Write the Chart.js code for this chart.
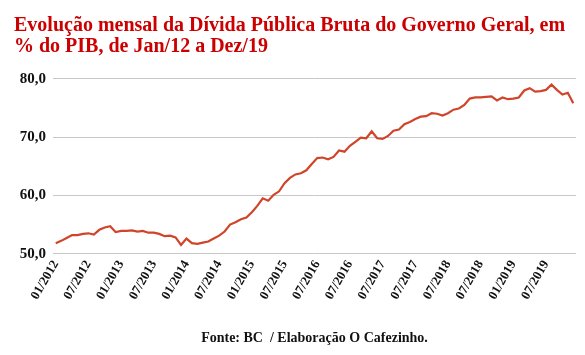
<!DOCTYPE html>
<html>
<head>
<meta charset="utf-8">
<script src="https://cdn.jsdelivr.net/npm/chart.js@4.4.1/dist/chart.umd.min.js"></script>
<style>
  html, body { margin: 0; padding: 0; background: #ffffff; }
  #wrap { width: 585px; height: 355px; position: relative; }
</style>
</head>
<body>
<div id="wrap"><canvas id="c" width="585" height="355"></canvas></div>
<script>
// Monthly gross general government debt, % of GDP, Jan/2012 .. Dec/2019
const debt2012 = [51.8, 52.2, 52.7, 53.2, 53.2, 53.4, 53.5, 53.3, 54.1, 54.5, 54.7, 53.7];
const debt2013 = [53.9, 53.9, 54.0, 53.8, 53.9, 53.6, 53.6, 53.4, 53.0, 53.1, 52.8, 51.5];
const debt2014 = [52.6, 51.8, 51.7, 51.9, 52.1, 52.6, 53.1, 53.8, 55.0, 55.4, 55.9, 56.2];
const debt2015 = [57.1, 58.2, 59.5, 59.1, 60.1, 60.7, 62.1, 63.0, 63.6, 63.8, 64.3, 65.4];
const debt2016 = [66.4, 66.5, 66.2, 66.6, 67.7, 67.5, 68.5, 69.2, 69.9, 69.8, 71.0, 69.8];
const debt2017 = [69.7, 70.2, 71.1, 71.3, 72.2, 72.6, 73.1, 73.5, 73.6, 74.1, 74.0, 73.7];
const debt2018 = [74.1, 74.7, 74.9, 75.5, 76.6, 76.8, 76.8, 76.9, 77.0, 76.3, 76.8, 76.5];
const debt2019 = [76.6, 76.8, 78.0, 78.4, 77.8, 77.9, 78.1, 79.0, 78.1, 77.3, 77.6, 75.8];

// Tick labels as printed on the original chart (one every 6 months)
const tickLabels = ["01/2012","07/2012","01/2013","07/2013","01/2014","07/2014","01/2015","07/2015",
                    "07/2016","07/2016","07/2017","07/2017","07/2018","07/2018","01/2019","07/2019"];

const years = [2012, 2013, 2014, 2015, 2016, 2017, 2018, 2019];
const months = ["01","02","03","04","05","06","07","08","09","10","11","12"];

const values = [].concat(debt2012, debt2013, debt2014, debt2015, debt2016, debt2017, debt2018, debt2019);
const categories = [];
years.forEach(y => months.forEach(m => categories.push(m + "/" + y)));

const titleLines = ["Evolução mensal da Dívida Pública Bruta do Governo Geral, em", "% do PIB, de Jan/12 a Dez/19"];
const sourceText = "Fonte: BC  / Elaboração O Cafezinho.";

const serif = "'Liberation Serif', 'Times New Roman', serif";

new Chart(document.getElementById('c'), {
  type: 'line',
  data: {
    labels: categories,
    datasets: [{
      data: values,
      borderColor: '#d0442a',
      borderWidth: 2.2,
      pointRadius: 0,
      tension: 0,
      fill: false
    }]
  },
  options: {
    responsive: false,
    animation: false,
    layout: { padding: { left: 14, right: 9, top: 4, bottom: 4 } },
    plugins: {
      legend: { display: false },
      tooltip: { enabled: false },
      title: {
        display: true,
        text: titleLines,
        align: 'start',
        color: '#cc0000',
        font: { family: serif, size: 20, weight: 'bold', lineHeight: 1.07 },
        padding: { top: 11, bottom: 21 }
      },
      subtitle: {
        display: true,
        position: 'bottom',
        fullSize: false,
        text: sourceText,
        align: 'center',
        color: '#111111',
        font: { family: serif, size: 14, weight: 'bold' },
        padding: { top: 6, bottom: 4.5 }
      }
    },
    scales: {
      x: {
        offset: true,
        grid: { display: false, drawTicks: false },
        border: { display: false },
        afterFit: function (axis) {
          axis.height = 70;
          axis.paddingLeft = 0;
          axis.paddingRight = 0;
        },
        ticks: {
          autoSkip: false,
          maxRotation: 60,
          minRotation: 60,
          padding: 4,
          color: '#111111',
          font: { family: serif, size: 13, weight: 'bold' },
          callback: function (val, idx) {
            return idx % 6 === 0 ? tickLabels[idx / 6] : '';
          }
        }
      },
      y: {
        min: 50,
        max: 80,
        grid: { color: '#c8c8c8', lineWidth: 1, drawTicks: false },
        border: { display: false },
        afterFit: function (axis) { axis.width = 39; },
        ticks: {
          stepSize: 10,
          padding: 7,
          color: '#111111',
          font: { family: serif, size: 15, weight: 'bold' },
          callback: v => v.toFixed(1).replace('.', ',')
        }
      }
    }
  }
});
</script>
</body>
</html>
